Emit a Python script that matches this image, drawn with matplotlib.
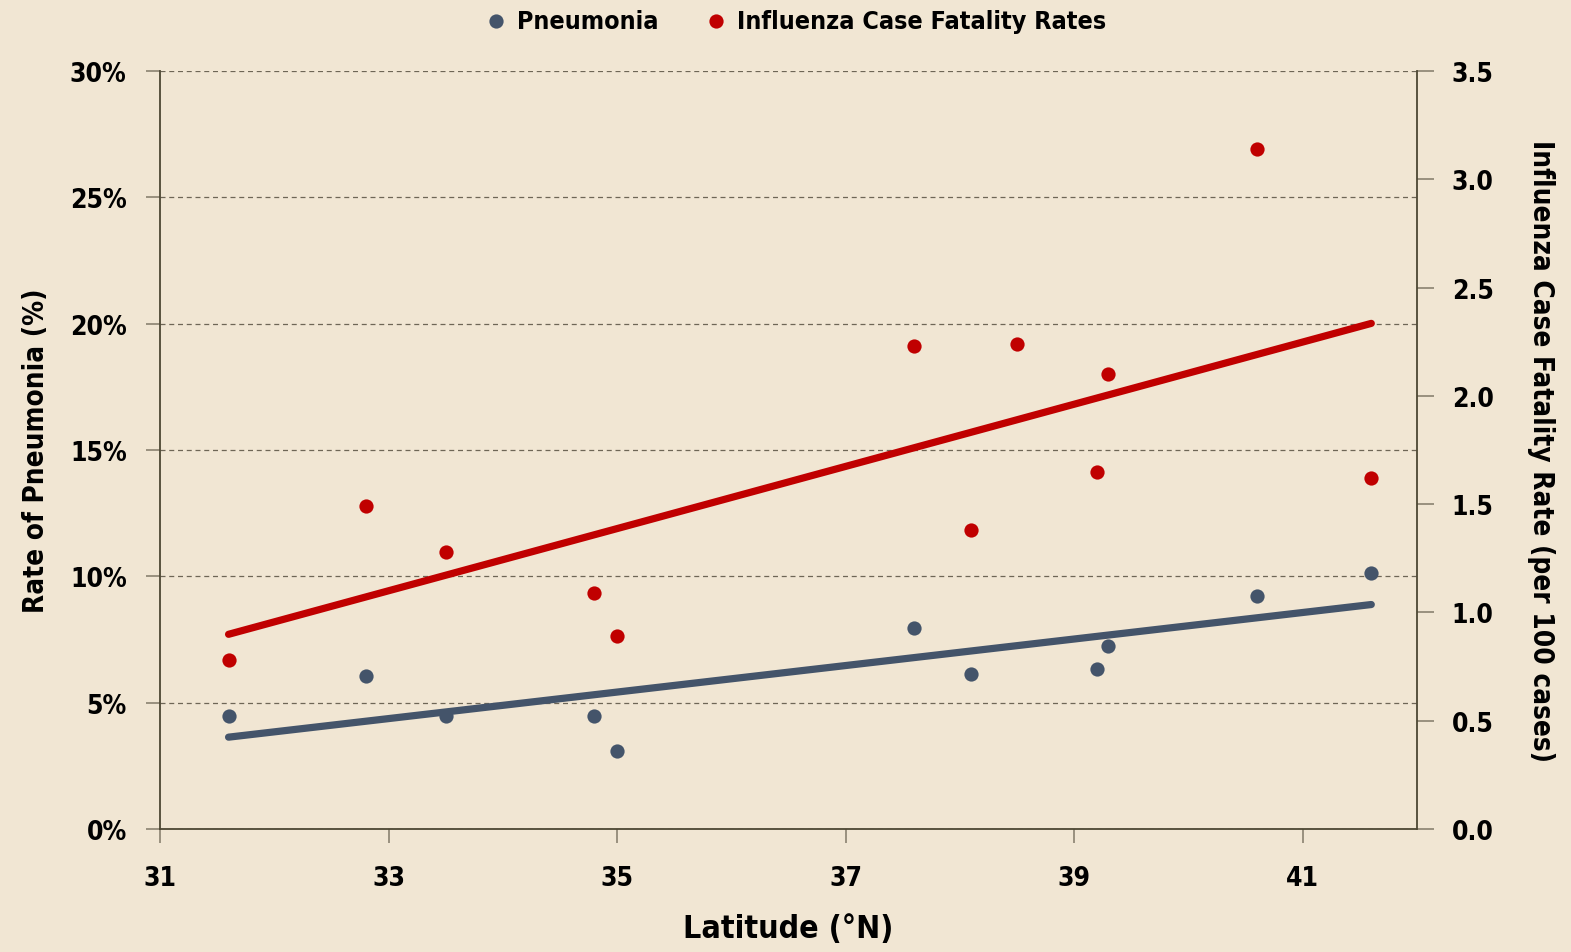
import numpy as np
import matplotlib
matplotlib.use("Agg")
import matplotlib.pyplot as plt
from matplotlib.ticker import FuncFormatter, MultipleLocator

plt.rcParams['font.family'] = ['DejaVu Sans']
plt.rcParams['font.stretch'] = 'condensed'
plt.rcParams['font.weight'] = 'bold'
plt.rcParams['axes.labelweight'] = 'bold'

# Data
pneu_lat = [31.6, 32.8, 33.5, 34.8, 35.0, 37.6, 38.1, 39.2, 39.3, 40.6, 41.6]
pneu_rate = [4.47, 6.05, 4.47, 4.47, 3.09, 7.95, 6.15, 6.35, 7.25, 9.24, 10.15]
flu_lat = [31.6, 32.8, 33.5, 34.8, 35.0, 37.6, 38.1, 38.5, 39.2, 39.3, 40.6, 41.6]
flu_cfr = [0.78, 1.49, 1.28, 1.09, 0.89, 2.23, 1.38, 2.24, 1.65, 2.10, 3.14, 1.62]
series_names = ["Pneumonia", "Influenza Case Fatality Rates"]
x_ticks = [31, 33, 35, 37, 39, 41]

bg = '#F1E6D3'
blue = '#44546A'
red = '#C00000'
spine_c = '#4D4733'
tick_c = '#8A8270'

fig = plt.figure(figsize=(15.71, 9.53), dpi=100, facecolor=bg)
ax = fig.add_axes([160/1571, 1-830/953, (1417-160)/1571, (830-72)/953])
ax.set_facecolor(bg)
ax2 = ax.twinx()

pb = np.polyfit(pneu_lat, pneu_rate, 1)
pr = np.polyfit(flu_lat, flu_cfr, 1)
xb = np.array([min(pneu_lat), max(pneu_lat)])
xr = np.array([min(flu_lat), max(flu_lat)])

ms = 105
ax.plot(xb, np.polyval(pb, xb), color=blue, lw=5.2, solid_capstyle='round', zorder=3)
ax.scatter(pneu_lat, pneu_rate, s=ms, color=blue, zorder=4, linewidths=0)
ax2.plot(xr, np.polyval(pr, xr), color=red, lw=5.2, solid_capstyle='round', zorder=3)
ax2.scatter(flu_lat, flu_cfr, s=ms, color=red, zorder=4, linewidths=0)

ax.set_xlim(31, 42)
ax.set_ylim(0, 30)
ax2.set_ylim(0, 3.5)
ax.set_xticks(x_ticks)
ax.yaxis.set_major_locator(MultipleLocator(5))
ax.yaxis.set_major_formatter(FuncFormatter(lambda v, p: f"{v:.0f}%"))
ax2.yaxis.set_major_locator(MultipleLocator(0.5))
ax2.yaxis.set_major_formatter(FuncFormatter(lambda v, p: f"{v:.1f}"))

ax.grid(axis='y', linestyle=(0, (4, 3)), color='#6E6656', lw=0.9)
ax.set_axisbelow(True)

for a in (ax, ax2):
    a.spines['top'].set_visible(False)
    for s in ('left', 'right', 'bottom'):
        a.spines[s].set_color(spine_c)
        a.spines[s].set_linewidth(1.3)
ax.spines['right'].set_visible(False)
ax2.spines['left'].set_visible(False)
ax2.spines['bottom'].set_visible(False)

ax.tick_params(axis='both', colors=tick_c, labelcolor='black', length=10, width=1.2, labelsize=19)
ax.tick_params(axis='y', pad=14)
ax.tick_params(axis='x', pad=16)
ax2.tick_params(axis='y', colors=tick_c, labelcolor='black', length=12, width=1.2, labelsize=19, pad=13)

ax.set_xlabel("Latitude (°N)", fontsize=23, labelpad=16)
ax.set_ylabel("Rate of Pneumonia (%)", fontsize=20, labelpad=14)
ax2.set_ylabel("Influenza Case Fatality Rate (per 100 cases)", fontsize=20, rotation=270, labelpad=44)

h1 = ax.scatter([], [], s=ms, color=blue, linewidths=0)
h2 = ax.scatter([], [], s=ms, color=red, linewidths=0)
fig.legend([h1, h2], series_names, loc='center', bbox_to_anchor=(0.506, 1-22/953), ncol=2,
           frameon=False, fontsize=18, handlelength=1.0, handletextpad=0.35, columnspacing=1.8,
           markerscale=1.0, borderaxespad=0, borderpad=0)

fig.savefig("out.png", dpi=100, facecolor=bg)
